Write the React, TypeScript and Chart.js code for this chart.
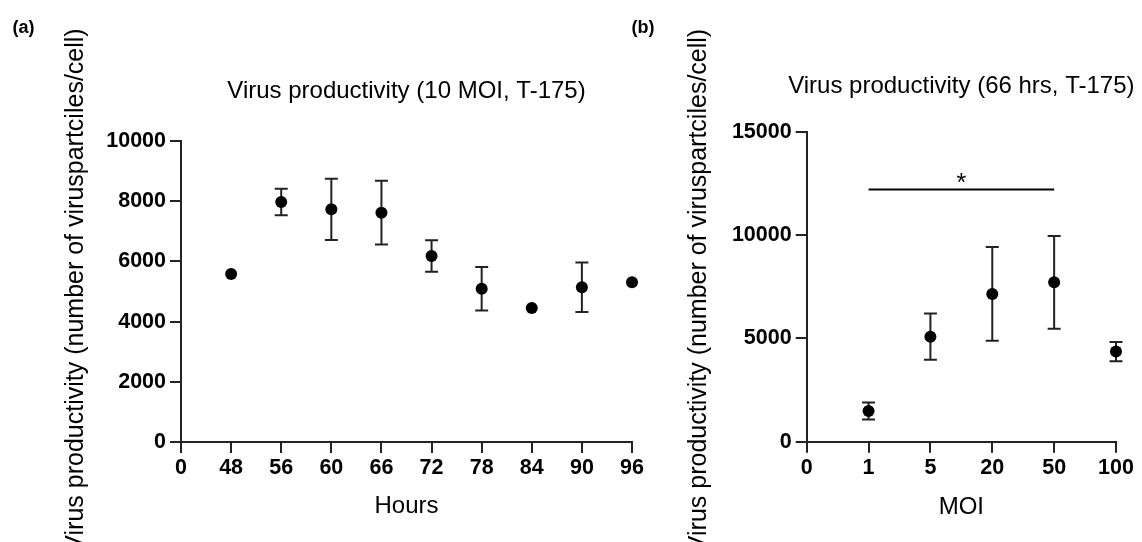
import React, { useEffect, useRef } from 'react';
import { Chart, registerables } from 'chart.js';

Chart.register(...registerables);

// ---------- data ----------
const HOURS = ['0', '48', '56', '60', '66', '72', '78', '84', '90', '96'];
const HOURS_MEAN = [null, 5580, 7970, 7730, 7620, 6180, 5090, 4450, 5140, 5310];
const HOURS_ERR = [0, 0, 440, 1020, 1060, 520, 720, 0, 820, 0];
const HOURS_Y_MAX = 10000;
const HOURS_Y_STEP = 2000;

const MOI = ['0', '1', '5', '20', '50', '100'];
const MOI_MEAN = [null, 1490, 5080, 7150, 7710, 4360];
const MOI_ERR = [0, 410, 1120, 2270, 2240, 470];
const MOI_Y_MAX = 15000;
const MOI_Y_STEP = 5000;

const SIG_FROM = '1';
const SIG_TO = '50';
const SIG_Y = 12200;
const SIG_TEXT = '*';

const TITLE_A = 'Virus productivity (10 MOI, T-175)';
const TITLE_B = 'Virus productivity (66 hrs, T-175)';
const Y_TITLE = 'Virus productivity (number of viruspartciles/cell)';
const X_TITLE_A = 'Hours';
const X_TITLE_B = 'MOI';
const PANEL_A = '(a)';
const PANEL_B = '(b)';

// ---------- styling ----------
const FONT = 'Arial, "Liberation Sans", sans-serif';
const AXIS_COLOR = '#222';

Chart.defaults.font.family = FONT;
Chart.defaults.color = '#000';

const errorBarPlugin = {
  id: 'errorBars',
  beforeDatasetsDraw(chart: any) {
    const { ctx } = chart;
    const yScale = chart.scales.y;
    chart.data.datasets.forEach((ds: any, i: number) => {
      const errs = ds.errors;
      if (!errs) return;
      const meta = chart.getDatasetMeta(i);
      ctx.save();
      ctx.strokeStyle = AXIS_COLOR;
      ctx.lineWidth = 2;
      meta.data.forEach((pt: any, j: number) => {
        const v = ds.data[j];
        const e = errs[j];
        if (v == null || !e) return;
        const x = pt.x;
        const yt = yScale.getPixelForValue(v + e);
        const yb = yScale.getPixelForValue(v - e);
        const cap = 6.5;
        ctx.beginPath();
        ctx.moveTo(x, yt);
        ctx.lineTo(x, yb);
        ctx.moveTo(x - cap, yt);
        ctx.lineTo(x + cap, yt);
        ctx.moveTo(x - cap, yb);
        ctx.lineTo(x + cap, yb);
        ctx.stroke();
      });
      ctx.restore();
    });
  },
};

const extraTextPlugin = {
  id: 'extraText',
  afterDraw(chart: any, _args: any, opts: any) {
    const { ctx, chartArea } = chart;
    ctx.save();
    ctx.fillStyle = '#000';
    if (opts.panel) {
      ctx.font = `bold 18px ${FONT}`;
      ctx.textAlign = 'left';
      ctx.textBaseline = 'middle';
      ctx.fillText(opts.panel, opts.panelX, opts.panelY);
    }
    if (opts.title) {
      ctx.font = `24px ${FONT}`;
      ctx.textAlign = 'center';
      ctx.textBaseline = 'middle';
      ctx.fillText(opts.title, (chartArea.left + chartArea.right) / 2, opts.titleY);
    }
    if (opts.yTitle) {
      ctx.save();
      ctx.font = `25px ${FONT}`;
      ctx.translate(opts.yTitleX, opts.yTitleY);
      ctx.rotate(-Math.PI / 2);
      ctx.textAlign = 'center';
      ctx.textBaseline = 'middle';
      ctx.fillText(opts.yTitle, 0, 0);
      ctx.restore();
    }
    if (opts.sigDataset != null) {
      const ds = chart.data.datasets[opts.sigDataset];
      const meta = chart.getDatasetMeta(opts.sigDataset);
      const pts = meta.data.filter((_p: any, j: number) => ds.data[j] != null);
      if (pts.length) {
        const x = (pts[0].x + pts[pts.length - 1].x) / 2;
        const y = pts[0].y;
        ctx.font = `25px ${FONT}`;
        ctx.textAlign = 'center';
        ctx.textBaseline = 'alphabetic';
        ctx.fillText(opts.sigText, x, y + 1);
      }
    }
    ctx.restore();
  },
};

type PanelSpec = {
  labels: string[];
  mean: (number | null)[];
  err: number[];
  yMax: number;
  yStep: number;
  title: string;
  titleY: number;
  xTitle: string;
  yTitleX: number;
  yTitleY: number;
  panel: string;
  panelX: number;
  panelY: number;
  padding: { left: number; right: number; top: number; bottom: number };
  yWidth: number;
  xHeight: number;
  sig?: boolean;
};

function buildConfig(p: PanelSpec): any {
  const datasets: any[] = [
    {
      type: 'line',
      data: p.mean,
      errors: p.err,
      showLine: false,
      pointRadius: 6,
      pointHoverRadius: 6,
      pointBackgroundColor: '#000',
      pointBorderWidth: 0,
      borderColor: '#000',
    },
  ];
  if (p.sig) {
    const a = p.labels.indexOf(SIG_FROM);
    const b = p.labels.indexOf(SIG_TO);
    datasets.push({
      type: 'line',
      data: p.labels.map((_l, i) => (i >= a && i <= b ? SIG_Y : null)),
      pointRadius: 0,
      borderWidth: 2,
      borderColor: '#000',
      spanGaps: false,
    });
  }
  return {
    type: 'line',
    data: { labels: p.labels, datasets },
    plugins: [errorBarPlugin, extraTextPlugin],
    options: {
      responsive: false,
      animation: false,
      devicePixelRatio: 1,
      events: [],
      layout: { padding: p.padding },
      plugins: {
        legend: { display: false },
        tooltip: { enabled: false },
        title: { display: false },
        extraText: {
          panel: p.panel,
          panelX: p.panelX,
          panelY: p.panelY,
          title: p.title,
          titleY: p.titleY,
          yTitle: Y_TITLE,
          yTitleX: p.yTitleX,
          yTitleY: p.yTitleY,
          sigDataset: p.sig ? 1 : null,
          sigText: SIG_TEXT,
        },
      },
      scales: {
        x: {
          type: 'category',
          offset: false,
          afterFit: (s: any) => {
            s.height = p.xHeight;
          },
          grid: {
            display: true,
            offset: false,
            drawOnChartArea: false,
            drawTicks: true,
            tickLength: 11,
            color: AXIS_COLOR,
            lineWidth: 2,
          },
          border: { display: true, color: AXIS_COLOR, width: 2 },
          ticks: {
            autoSkip: false,
            maxRotation: 0,
            padding: 2,
            color: '#000',
            font: { size: 21.5, weight: 'bold', family: FONT, lineHeight: 1.2 },
          },
          title: {
            display: true,
            text: p.xTitle,
            color: '#000',
            padding: 0,
            font: { size: 24, weight: 'normal', family: FONT, lineHeight: 1.2 },
          },
        },
        y: {
          type: 'linear',
          min: 0,
          max: p.yMax,
          afterFit: (s: any) => {
            s.width = p.yWidth;
          },
          grid: {
            display: true,
            drawOnChartArea: false,
            drawTicks: true,
            tickLength: 11,
            color: AXIS_COLOR,
            lineWidth: 2,
          },
          border: { display: true, color: AXIS_COLOR, width: 2 },
          ticks: {
            stepSize: p.yStep,
            padding: 4,
            color: '#000',
            callback: (v: any) => String(v),
            font: { size: 21.5, weight: 'bold', family: FONT, lineHeight: 1.2 },
          },
          title: { display: false },
        },
      },
    },
  };
}

const W = 1142;
const H = 542;

const SPEC_A: PanelSpec = {
  labels: HOURS,
  mean: HOURS_MEAN,
  err: HOURS_ERR,
  yMax: HOURS_Y_MAX,
  yStep: HOURS_Y_STEP,
  title: TITLE_A,
  titleY: 91,
  xTitle: X_TITLE_A,
  yTitleX: 76,
  yTitleY: 290,
  panel: PANEL_A,
  panelX: 12.5,
  panelY: 28,
  padding: { left: 61.6, right: W - 632, top: 141, bottom: 20.9 },
  yWidth: 119.4,
  xHeight: 79.1,
};

const SPEC_B: PanelSpec = {
  labels: MOI,
  mean: MOI_MEAN,
  err: MOI_ERR,
  yMax: MOI_Y_MAX,
  yStep: MOI_Y_STEP,
  title: TITLE_B,
  titleY: 86.8,
  xTitle: X_TITLE_B,
  yTitleX: 699.4,
  yTitleY: 290.5,
  panel: PANEL_B,
  panelX: 631.5,
  panelY: 28,
  padding: { left: 685, right: W - 1116, top: 131.7, bottom: 20.2 },
  yWidth: 121.7,
  xHeight: 80.1,
  sig: true,
};

function ChartCanvas({ spec }: { spec: PanelSpec }) {
  const ref = useRef<HTMLCanvasElement | null>(null);
  useEffect(() => {
    if (!ref.current) return;
    const chart = new Chart(ref.current, buildConfig(spec));
    return () => chart.destroy();
  }, [spec]);
  return (
    <canvas
      ref={ref}
      width={W}
      height={H}
      style={{ position: 'absolute', left: 0, top: 0, width: W, height: H }}
    />
  );
}

export default function App() {
  return (
    <div
      style={{
        position: 'fixed',
        left: 0,
        top: 0,
        width: W,
        height: H,
        background: '#fff',
        overflow: 'hidden',
      }}
    >
      <ChartCanvas spec={SPEC_A} />
      <ChartCanvas spec={SPEC_B} />
    </div>
  );
}
